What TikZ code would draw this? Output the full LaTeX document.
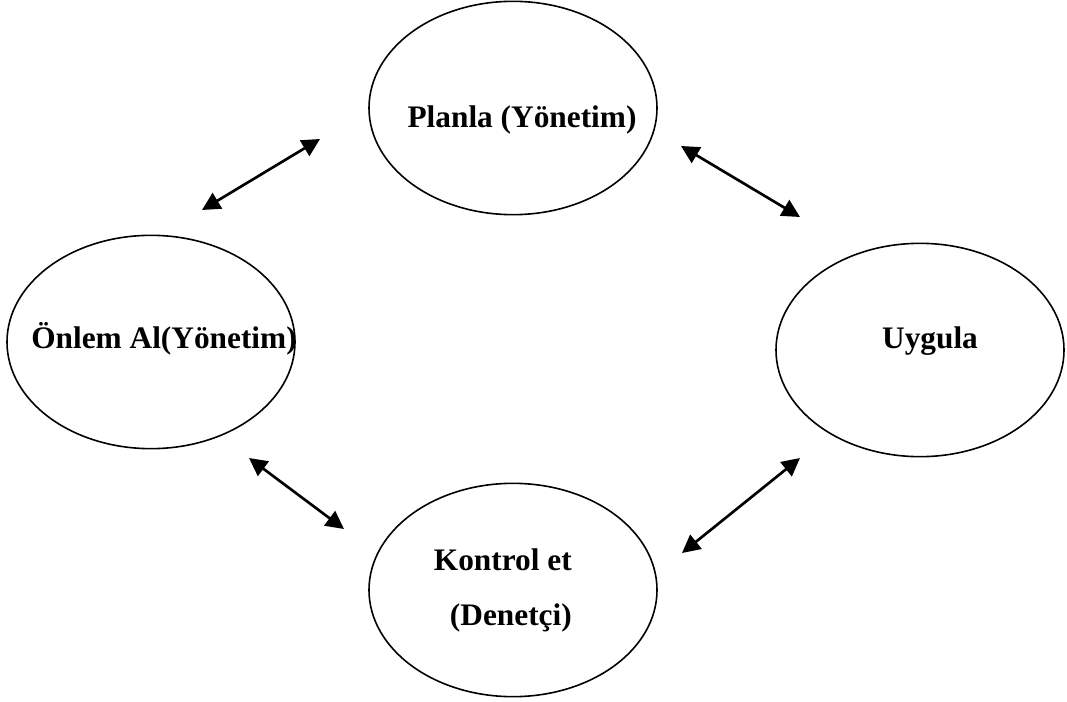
\documentclass[tikz,border=0pt]{standalone}
\usepackage{fontspec}
\setmainfont{Liberation Serif}
\usepackage{tikz}
\usetikzlibrary{positioning,arrows.meta,calc,shapes.geometric}
\tikzset{
  phase/.style={draw, ellipse, line width=1.2pt, minimum width=216pt, minimum height=160pt, inner sep=0pt},
  phasetext/.style={inner sep=0pt, font=\fontsize{23.5}{28}\selectfont\bfseries},
  cycle/.style={{Triangle[length=13.5pt,width=13.5pt]}-{Triangle[length=13.5pt,width=13.5pt]}, line width=2pt}
}

\begin{document}
\begin{tikzpicture}[x=0.75pt, y=-0.75pt]
\useasboundingbox (0,0) rectangle (1067,702);
\node[phase] (plan) at (513,108) {};
\node[phase] (onlem) at (151,342) {};
\node[phase] (uygula) at (920,350) {};
\node[phase] (kontrol) at (513,590) {};
\node[phasetext, anchor=base] (planT) at ($(plan)+(9,20)$) {Planla (Yönetim)};
\node[phasetext, anchor=base] (onlemT) at ($(onlem)+(13,6)$) {Önlem Al(Yönetim)};
\node[phasetext, anchor=base] (uygulaT) at ($(uygula)+(10,-2)$) {Uygula};
\node[phasetext, anchor=base east] (kontrolT) at ($(kontrol)+(59,-20)$) {Kontrol et};
\node[phasetext, anchor=base east] (denetciT) at ($(kontrol)+(59,35)$) {(Denetçi)};
% arrow ends
\coordinate (onlemUp) at (202,210);
\coordinate (planLeft) at (320,139);
\coordinate (planRight) at (681,146);
\coordinate (uygulaUp) at (800,217);
\coordinate (onlemDown) at (249,458);
\coordinate (kontrolLeft) at (344,529);
\coordinate (kontrolRight) at (682,553);
\coordinate (uygulaDown) at (800,458);
\draw[cycle] (onlemUp) -- (planLeft);
\draw[cycle] (planRight) -- (uygulaUp);
\draw[cycle] (onlemDown) -- (kontrolLeft);
\draw[cycle] (kontrolRight) -- (uygulaDown);
\end{tikzpicture}
\end{document}
